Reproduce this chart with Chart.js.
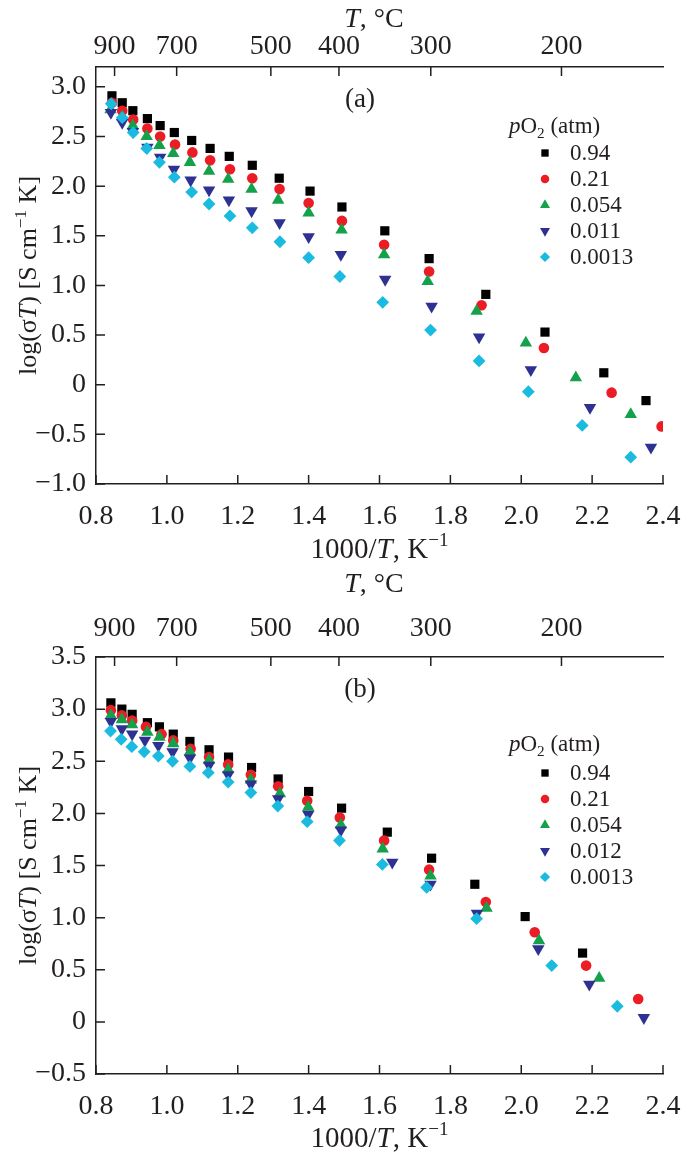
<!DOCTYPE html>
<html><head><meta charset="utf-8">
<script src="https://cdn.jsdelivr.net/npm/chart.js@4.4.1/dist/chart.umd.min.js"></script>
<style>
html,body{margin:0;padding:0;background:#fff;}
canvas{position:absolute;left:0;display:block;}
#cA{top:0;}
#cB{top:565px;}
</style></head><body>
<canvas id="cA" width="685" height="565"></canvas>
<canvas id="cB" width="685" height="598"></canvas>
<script>
// ---------------- DATA ----------------
const xTicks = [0.8, 1.0, 1.2, 1.4, 1.6, 1.8, 2.0, 2.2, 2.4];
const topTempC = [900, 700, 500, 400, 300, 200];
const yTicksA = [-1.0, -0.5, 0, 0.5, 1.0, 1.5, 2.0, 2.5, 3.0];
const yTicksB = [-0.5, 0, 0.5, 1.0, 1.5, 2.0, 2.5, 3.0, 3.5];
const labelsA = ['0.94', '0.21', '0.054', '0.011', '0.0013'];
const labelsB = ['0.94', '0.21', '0.054', '0.012', '0.0013'];

// Panel (a)
const a1x = [0.845,0.874,0.904,0.945,0.981,1.021,1.070,1.122,1.176,1.241,1.317,1.404,1.494,1.615,1.740,1.900,2.067,2.233,2.352];
const a1y = [2.91,2.84,2.76,2.68,2.61,2.54,2.46,2.38,2.30,2.21,2.08,1.95,1.79,1.55,1.27,0.91,0.53,0.12,-0.16];
const a2x = [0.845,0.874,0.905,0.945,0.981,1.023,1.072,1.122,1.178,1.241,1.318,1.400,1.494,1.613,1.740,1.888,2.064,2.255,2.396];
const a2y = [2.84,2.76,2.67,2.58,2.50,2.42,2.34,2.26,2.17,2.08,1.97,1.83,1.65,1.41,1.14,0.80,0.37,-0.08,-0.42];
const a3x = [0.841,0.874,0.904,0.943,0.979,1.018,1.065,1.119,1.173,1.239,1.314,1.400,1.493,1.613,1.736,1.874,2.013,2.154,2.309];
const a3y = [2.77,2.70,2.61,2.50,2.41,2.33,2.24,2.15,2.07,1.97,1.86,1.73,1.56,1.31,1.04,0.74,0.42,0.07,-0.30];
const a4x = [0.842,0.874,0.904,0.945,0.981,1.020,1.067,1.119,1.175,1.239,1.318,1.400,1.491,1.616,1.747,1.881,2.027,2.194,2.366];
const a4y = [2.74,2.64,2.55,2.39,2.29,2.17,2.06,1.96,1.86,1.75,1.63,1.49,1.31,1.06,0.79,0.48,0.15,-0.23,-0.63];
const a5x = [0.843,0.874,0.905,0.943,0.979,1.021,1.070,1.119,1.178,1.241,1.319,1.400,1.488,1.609,1.744,1.881,2.020,2.172,2.309];
const a5y = [2.83,2.69,2.54,2.38,2.24,2.09,1.94,1.82,1.70,1.58,1.44,1.28,1.09,0.83,0.55,0.24,-0.07,-0.41,-0.73];

// Panel (b)
const b1x = [0.842,0.873,0.902,0.945,0.979,1.018,1.065,1.119,1.174,1.239,1.314,1.400,1.493,1.622,1.747,1.869,2.011,2.173];
const b1y = [3.06,3.00,2.95,2.87,2.83,2.76,2.69,2.61,2.54,2.44,2.33,2.21,2.05,1.82,1.57,1.32,1.01,0.66];
const b2x = [0.842,0.873,0.902,0.941,0.985,1.018,1.067,1.119,1.173,1.237,1.314,1.396,1.488,1.613,1.740,1.900,2.038,2.183,2.330];
const b2y = [2.99,2.94,2.89,2.83,2.76,2.70,2.62,2.54,2.47,2.37,2.26,2.12,1.96,1.74,1.46,1.15,0.86,0.54,0.22];
const b3x = [0.842,0.873,0.902,0.945,0.979,1.018,1.065,1.119,1.173,1.237,1.319,1.399,1.491,1.609,1.744,1.902,2.050,2.220];
const b3y = [2.94,2.90,2.85,2.78,2.73,2.67,2.59,2.51,2.42,2.32,2.19,2.06,1.89,1.66,1.40,1.09,0.78,0.42];
const b4x = [0.842,0.873,0.902,0.938,0.976,1.016,1.065,1.119,1.173,1.237,1.314,1.399,1.491,1.636,1.744,1.875,2.048,2.192,2.346];
const b4y = [2.88,2.81,2.76,2.70,2.65,2.59,2.53,2.46,2.37,2.28,2.14,1.99,1.84,1.53,1.32,1.04,0.70,0.36,0.04];
const b5x = [0.841,0.871,0.901,0.936,0.976,1.016,1.065,1.117,1.173,1.237,1.313,1.396,1.487,1.608,1.733,1.874,2.086,2.271];
const b5y = [2.79,2.71,2.64,2.59,2.55,2.50,2.45,2.39,2.30,2.20,2.07,1.92,1.74,1.51,1.29,0.99,0.54,0.15];

// ---------------- STYLE ----------------
const FONT = "'Liberation Serif','Times New Roman','DejaVu Serif',serif";
const INK = '#231f20';
const markerStyles = [
  {color:'#000000', style:'rect',     radius:6.5, rotation:0},
  {color:'#ec1c24', style:'circle',   radius:5.3, rotation:0},
  {color:'#13a24b', style:'triangle', radius:7.2, rotation:0},
  {color:'#2e3192', style:'triangle', radius:7.2, rotation:180},
  {color:'#1bbbe0', style:'rectRot',  radius:6.4, rotation:0}
];

function fontStr(st, size){ return (st==='i' ? 'italic ' : '') + size + 'px ' + FONT; }

function drawRich(ctx, segs, x, y, size, align){
  const parts = segs.map(([t,k]) => {
    const sz = (k==='sup'||k==='sub') ? size*0.66 : size;
    const st = k==='i' ? 'i' : 'n';
    ctx.font = fontStr(st, sz);
    return {t, k, sz, st, w: ctx.measureText(t).width};
  });
  const total = parts.reduce((a,p)=>a+p.w, 0);
  let cx = align==='left' ? x : x - total/2;
  ctx.textAlign = 'left'; ctx.textBaseline = 'alphabetic';
  parts.forEach(p => {
    ctx.font = fontStr(p.st, p.sz);
    const dy = p.k==='sup' ? -size*0.40 : (p.k==='sub' ? size*0.22 : 0);
    ctx.fillText(p.t, cx, y + dy);
    cx += p.w;
  });
}

function drawMarker(ctx, m, x, y, scale){
  const r = m.radius*scale;
  ctx.save();
  ctx.fillStyle = m.color;
  ctx.translate(x, y);
  ctx.rotate(m.rotation*Math.PI/180);
  ctx.beginPath();
  if (m.style==='rect'){ const s = r*Math.SQRT1_2; ctx.rect(-s,-s,2*s,2*s); }
  else if (m.style==='circle'){ ctx.arc(0,0,r,0,Math.PI*2); }
  else if (m.style==='triangle'){
    for (let i=0;i<3;i++){ const a = i*2*Math.PI/3; const px = Math.sin(a)*r, py = -Math.cos(a)*r; if(i===0) ctx.moveTo(px,py); else ctx.lineTo(px,py); }
    ctx.closePath();
  } else if (m.style==='rectRot'){ ctx.moveTo(0,-r); ctx.lineTo(r,0); ctx.lineTo(0,r); ctx.lineTo(-r,0); ctx.closePath(); }
  ctx.fill();
  ctx.restore();
}

function fmtY(v){ if (Math.abs(v) < 1e-9) return '0'; return (v<0 ? '\u2212' : '') + Math.abs(v).toFixed(1); }
function noPad(s){ s.paddingLeft = 0; s.paddingRight = 0; s.paddingTop = 0; s.paddingBottom = 0; }

function makePanel(canvasId, P){
  const datasets = P.series.map((s, i) => ({
    label: P.labels[i],
    data: s.x.map((xv, j) => ({x: xv, y: s.y[j]})),
    pointStyle: markerStyles[i].style,
    pointRadius: markerStyles[i].radius,
    pointRotation: markerStyles[i].rotation,
    pointBackgroundColor: markerStyles[i].color,
    pointBorderColor: markerStyles[i].color,
    pointBorderWidth: 0,
    pointHoverRadius: markerStyles[i].radius,
    showLine: false,
    clip: 0,
    order: 5 - i
  }));

  const decor = {
    id: 'decor' + canvasId,
    afterDraw(chart){
      const ctx = chart.ctx, ca = chart.chartArea;
      const sx = chart.scales.x, sx2 = chart.scales.x2, sy = chart.scales.y;
      ctx.save();
      // inward tick marks
      ctx.strokeStyle = INK; ctx.lineWidth = 1.5;
      const L = 9;
      ctx.beginPath();
      xTicks.forEach(v => { const p = sx.getPixelForValue(v); ctx.moveTo(p, ca.bottom); ctx.lineTo(p, ca.bottom - L); });
      topTempC.forEach(t => { const p = sx2.getPixelForValue(1000/(t+273.15)); ctx.moveTo(p, ca.top); ctx.lineTo(p, ca.top + L); });
      P.yTicks.forEach(v => { const p = sy.getPixelForValue(v); ctx.moveTo(ca.left, p); ctx.lineTo(ca.left + L, p); });
      ctx.stroke();

      ctx.fillStyle = INK;
      // axis titles
      const midX = (ca.left + ca.right)/2;
      drawRich(ctx, [['1000/','n'],['T','i'],[', K','n'],['\u22121','sup']], midX, P.bottomTitleY + 10, 29, 'center');
      drawRich(ctx, [['T','i'],[', \u00B0C','n']], 374, P.topTitleY + 10, 28, 'center');
      ctx.save();
      ctx.translate(27, (ca.top + ca.bottom)/2);
      ctx.rotate(-Math.PI/2);
      drawRich(ctx, [['log(\u03C3','n'],['T','i'],[') [S cm','n'],['\u22121','sup'],[' K]','n']], 0, 9, 26, 'center');
      ctx.restore();
      // panel label
      ctx.font = fontStr('n', 27); ctx.textAlign = 'center'; ctx.textBaseline = 'middle';
      ctx.fillText(P.panel, 360, P.panelY);
      // legend
      drawRich(ctx, [['p','i'],['O','n'],['2','sub'],[' (atm)','n']], 509, P.legendTitleY + 8, 23, 'left');
      P.labels.forEach((lab, i) => {
        const yy = P.legendY0 + i*P.legendStep;
        drawMarker(ctx, markerStyles[i], 545, yy, 0.8);
        ctx.font = fontStr('n', 23); ctx.textAlign = 'left'; ctx.textBaseline = 'middle';
        ctx.fillText(lab, 570, yy + 1);
      });
      ctx.restore();
    }
  };

  const tickFont = {family: FONT, size: 28};
  return new Chart(document.getElementById(canvasId), {
    type: 'scatter',
    data: { datasets },
    options: {
      responsive: false,
      animation: false,
      devicePixelRatio: 1,
      events: [],
      layout: { padding: { left: 0, right: 22, top: 0, bottom: 0 } },
      plugins: { legend: { display: false }, tooltip: { enabled: false } },
      scales: {
        x: {
          type: 'linear', position: 'bottom', min: 0.8, max: 2.4,
          afterBuildTicks: s => { s.ticks = xTicks.map(v => ({value: v})); },
          afterFit: s => { s.height = P.xAxisH; noPad(s); },
          ticks: { font: tickFont, color: INK, padding: P.xPad, autoSkip: false, maxRotation: 0, callback: v => v.toFixed(1) },
          grid: { display: false, drawTicks: false },
          border: { display: true, color: INK, width: 1.5 }
        },
        x2: {
          type: 'linear', position: 'top', min: 0.8, max: 2.4,
          afterBuildTicks: s => { s.ticks = topTempC.map(t => ({value: 1000/(t+273.15)})); },
          afterFit: s => { s.height = P.topAxisH; noPad(s); },
          ticks: { font: tickFont, color: INK, padding: P.x2Pad, autoSkip: false, maxRotation: 0, callback: (v, i) => String(topTempC[i]) },
          grid: { display: false, drawTicks: false },
          border: { display: true, color: INK, width: 1.5 }
        },
        y: {
          type: 'linear', position: 'left', min: P.yMin, max: P.yMax,
          afterBuildTicks: s => { s.ticks = P.yTicks.map(v => ({value: v})); },
          afterFit: s => { s.width = 96; noPad(s); },
          ticks: { font: tickFont, color: INK, padding: 10, autoSkip: false, callback: v => fmtY(v) },
          grid: { display: false, drawTicks: false },
          border: { display: true, color: INK, width: 1.5 }
        }
      }
    },
    plugins: [decor]
  });
}

makePanel('cA', {
  series: [{x:a1x,y:a1y},{x:a2x,y:a2y},{x:a3x,y:a3y},{x:a4x,y:a4y},{x:a5x,y:a5y}],
  labels: labelsA, yTicks: yTicksA, yMin: -1.0, yMax: 3.2,
  topAxisH: 67, xAxisH: 81, xPad: 16, x2Pad: 4,
  topTitleY: 17, bottomTitleY: 548, panel: '(a)', panelY: 100,
  legendTitleY: 125, legendY0: 153, legendStep: 26
});
makePanel('cB', {
  series: [{x:b1x,y:b1y},{x:b2x,y:b2y},{x:b3x,y:b3y},{x:b4x,y:b4y},{x:b5x,y:b5y}],
  labels: labelsB, yTicks: yTicksB, yMin: -0.5, yMax: 3.5,
  topAxisH: 92, xAxisH: 89, xPad: 16, x2Pad: 12,
  topTitleY: 17, bottomTitleY: 572, panel: '(b)', panelY: 125,
  legendTitleY: 178, legendY0: 208, legendStep: 26
});
</script>
</body></html>
